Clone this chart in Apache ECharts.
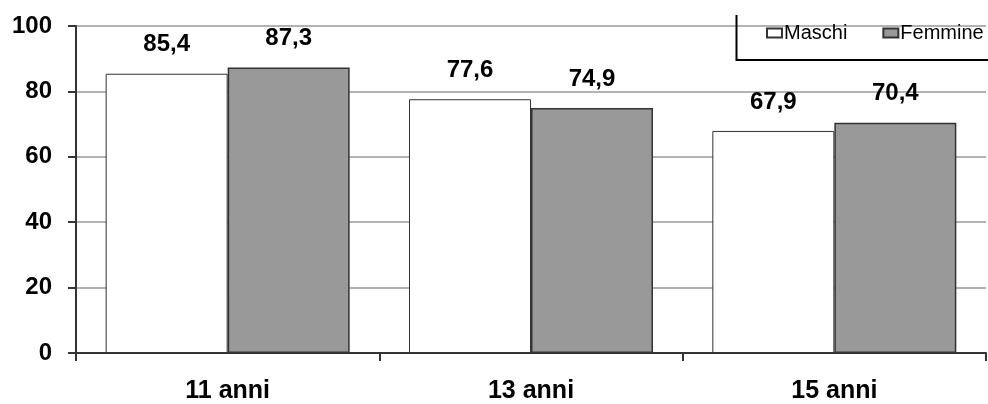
<!DOCTYPE html>
<html>
<head>
<meta charset="utf-8">
<script src="https://cdn.jsdelivr.net/npm/echarts@6/dist/echarts.min.js"></script>
<style>
  html, body { margin: 0; padding: 0; background: #fff; }
  #chart { width: 988px; height: 404px; }
</style>
</head>
<body>
<div id="chart"></div>
<script>
// Age groups and percentages per sex
const categories = ['11 anni', '13 anni', '15 anni'];
const maschi = [85.4, 77.6, 67.9];
const femmine = [87.3, 74.9, 70.4];
const yTicks = { min: 0, max: 100, interval: 20 };

const FONT = '"Liberation Sans", Arial, sans-serif';
const fmt = v => String(v).replace('.', ',');

const chart = echarts.init(document.getElementById('chart'), null, { renderer: 'canvas' });

const valueLabel = {
  show: true,
  position: 'top',
  distance: 17,
  color: '#000',
  fontFamily: FONT,
  fontWeight: 'bold',
  fontSize: 24,
  formatter: p => fmt(p.value)
};

chart.setOption({
  animation: false,
  backgroundColor: '#fff',
  grid: { left: 76, right: 2, top: 26, bottom: 50, containLabel: false },
  legend: {
    left: 766,
    top: 23,
    icon: 'rect',
    itemWidth: 15,
    itemHeight: 9,
    itemGap: 35,
    padding: 0,
    textStyle: { fontFamily: FONT, fontSize: 20, color: '#000', padding: [0, 0, 0, -3] },
    data: ['Maschi', 'Femmine']
  },
  graphic: [{
    type: 'polyline',
    z: 10,
    shape: { points: [[736.5, 15], [736.5, 60], [990, 60]] },
    style: { stroke: '#000', lineWidth: 2, fill: null }
  }],
  xAxis: {
    type: 'category',
    data: categories,
    axisLine: { lineStyle: { color: '#333', width: 2 } },
    axisTick: { show: true, length: 8, lineStyle: { color: '#333', width: 2 } },
    axisLabel: {
      margin: 26,
      color: '#000',
      fontFamily: FONT,
      fontWeight: 'bold',
      fontSize: 25
    }
  },
  yAxis: {
    type: 'value',
    min: yTicks.min,
    max: yTicks.max,
    interval: yTicks.interval,
    axisLine: { show: true, lineStyle: { color: '#333', width: 2 } },
    axisTick: { show: true, length: 8, lineStyle: { color: '#333', width: 2 } },
    splitLine: { show: true, lineStyle: { color: '#999', width: 1.5 } },
    axisLabel: {
      margin: 24,
      color: '#000',
      fontFamily: FONT,
      fontWeight: 'bold',
      fontSize: 24
    }
  },
  series: [
    {
      name: 'Maschi',
      type: 'bar',
      data: maschi,
      barWidth: 122,
      barGap: '0%',
      itemStyle: { color: '#fff', borderColor: '#333', borderWidth: 1 },
      label: valueLabel
    },
    {
      name: 'Femmine',
      type: 'bar',
      data: femmine,
      barWidth: 122,
      barGap: '0%',
      itemStyle: { color: '#999', borderColor: '#333', borderWidth: 1.5 },
      label: valueLabel
    }
  ]
});
</script>
</body>
</html>
